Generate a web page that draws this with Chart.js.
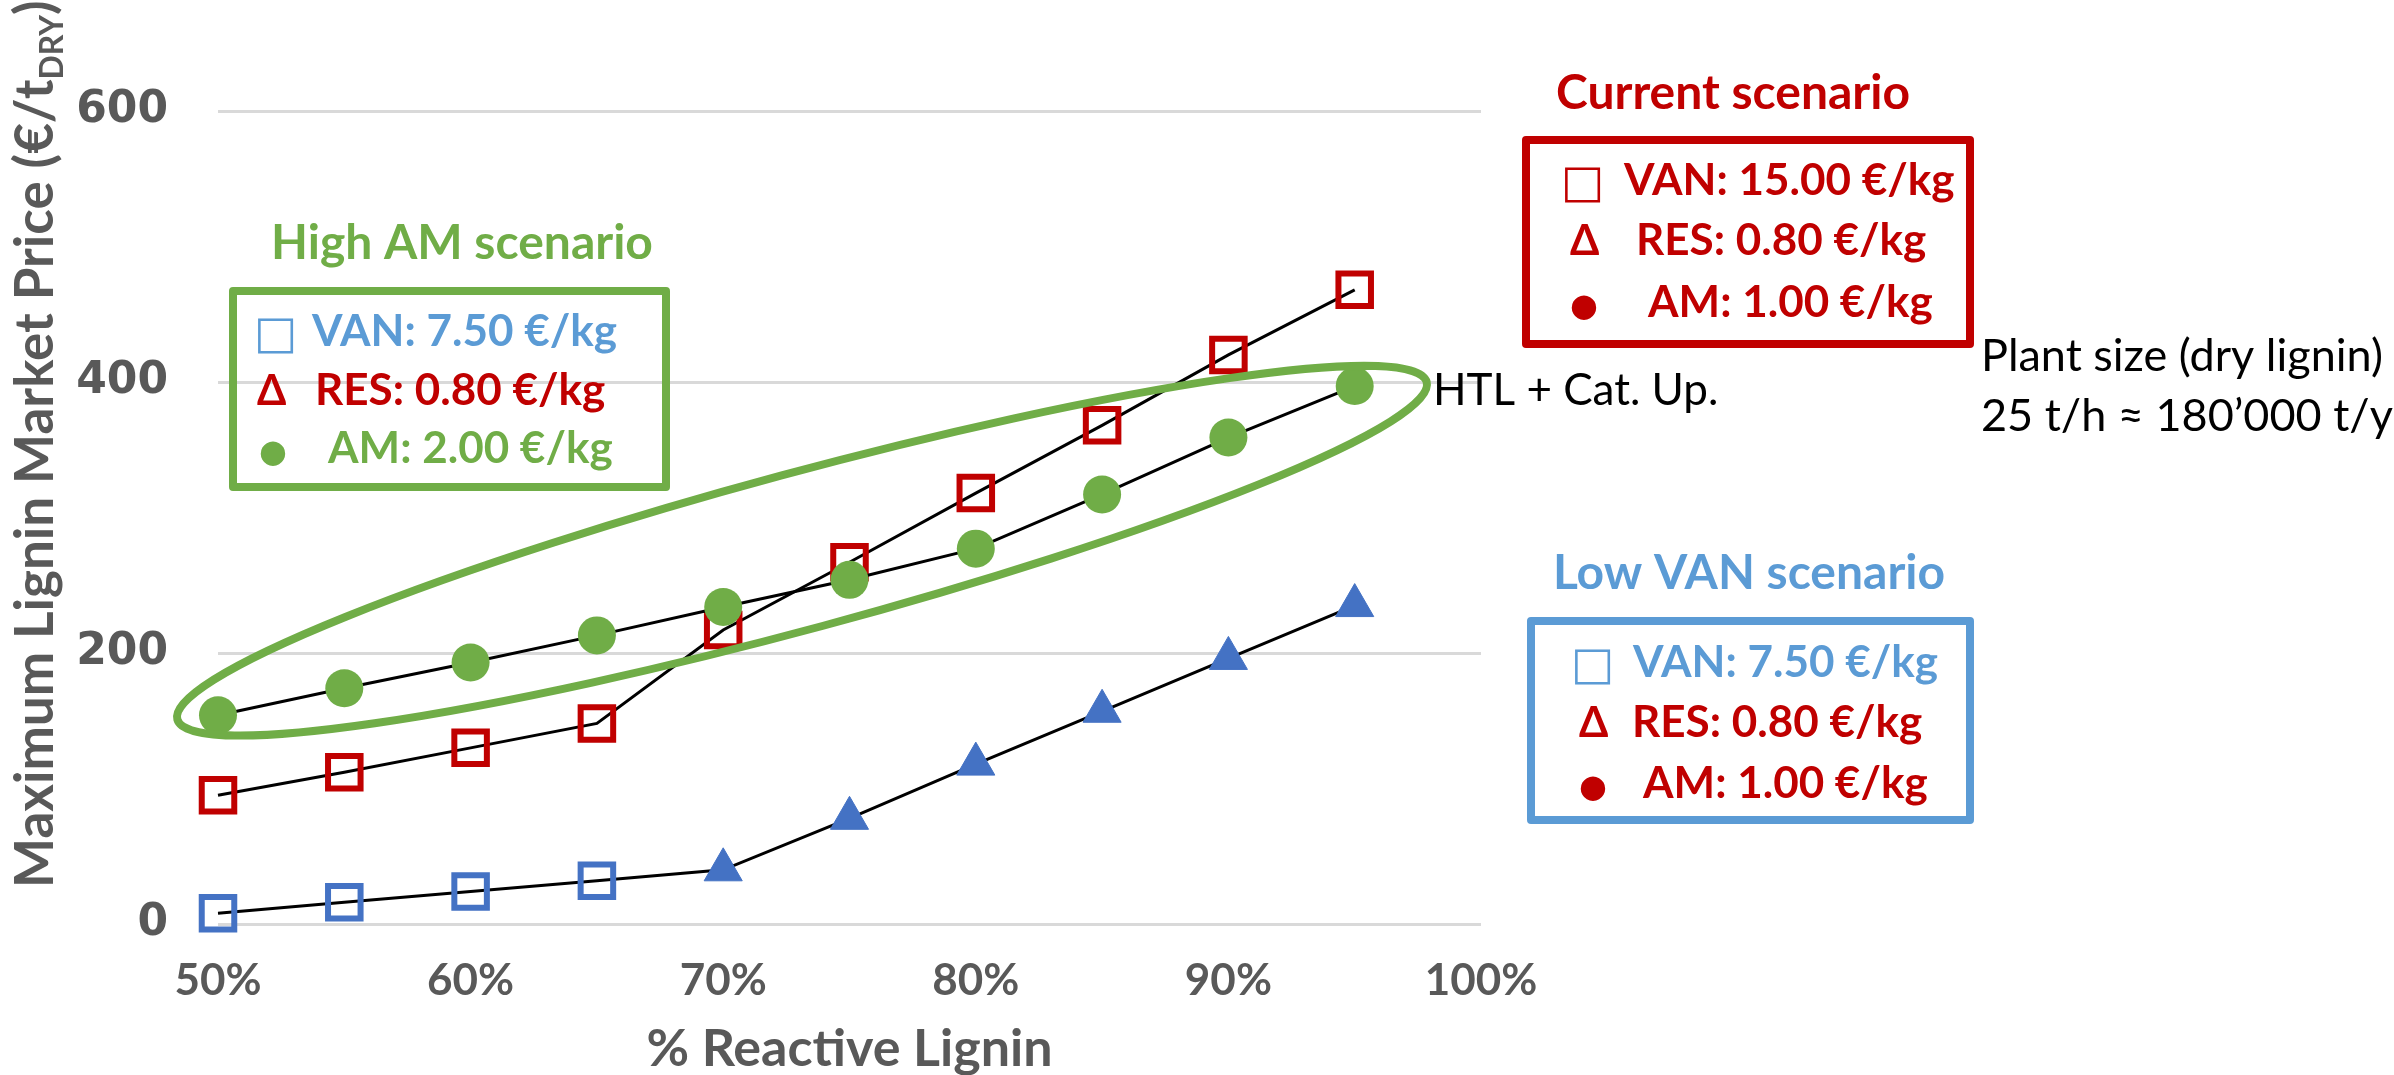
<!DOCTYPE html>
<html>
<head>
<meta charset="utf-8">
<script src="https://cdn.jsdelivr.net/npm/chart.js@4.4.1/dist/chart.umd.min.js"></script>
<style>
  html, body { margin: 0; padding: 0; background: #fff; }
  #wrap { width: 2394px; height: 1075px; position: relative; }
</style>
</head>
<body>
<div id="wrap"><canvas id="myChart"></canvas></div>
<script>
// % reactive lignin on x, max lignin price (€/t dry) on y
const reactive = [0.50, 0.55, 0.60, 0.65, 0.70, 0.75, 0.80, 0.85, 0.90, 0.95];
const priceLowVan = [8, 16, 24, 32, 40, 78, 118, 157, 196, 235];
const priceCurrent = [95, 112, 130, 148, 217, 267, 318, 368, 420, 468];
const priceHighAm = [154, 174, 193, 213, 234, 254, 277, 317, 359, 397];
// which product drives the low VAN case: VAN (square) or RES (triangle)
const lowVanMarker = ['VAN', 'VAN', 'VAN', 'VAN', 'RES', 'RES', 'RES', 'RES', 'RES', 'RES'];
const xTicks = [0.5, 0.6, 0.7, 0.8, 0.9, 1.0];
const yTicks = [0, 200, 400, 600];

const red = '#C00000';
const green = '#70AD47';
const blue = '#4472C4';
const lightBlue = '#5B9BD5';
const grey = '#595959';

function pts(ys) {
    return reactive.map((x, i) => ({ x: x, y: ys[i] }));
}

// ellipse round the high AM points, ends given in data units
const ellipse = { x1: 0.4839, y1: 151, x2: 0.9785, y2: 400, halfWidth: 78 };

const boxes = [
    { x1: 233, y1: 291, x2: 666, y2: 487, color: green },
    { x1: 1526, y1: 140, x2: 1970, y2: 344, color: red },
    { x1: 1531, y1: 621, x2: 1970, y2: 820, color: lightBlue }
];

const titleFont = 'bold 48px Lato';
const rowFont = 'bold 44px Lato';
const sqFont = 'bold 46px "DejaVu Sans"';
const triFont = 'bold 42px Lato';
const dotFont = '32px "DejaVu Sans"';
const plainFont = '44px Lato';

const labels = [
    { t: 'High AM scenario', x: 462, y: 259, c: green, f: titleFont, a: 'center' },
    { t: '□', x: 254, y: 348, c: lightBlue, f: sqFont },
    { t: 'VAN: 7.50 €/kg', x: 312, y: 346, c: lightBlue, f: rowFont },
    { t: 'Δ', x: 257, y: 405, c: red, f: triFont },
    { t: 'RES: 0.80 €/kg', x: 315, y: 405, c: red, f: rowFont },
    { t: '●', x: 273, y: 462, c: green, f: dotFont, a: 'center' },
    { t: 'AM: 2.00 €/kg', x: 328, y: 463, c: green, f: rowFont },

    { t: 'Current scenario', x: 1733, y: 109, c: red, f: titleFont, a: 'center' },
    { t: '□', x: 1561, y: 197, c: red, f: sqFont },
    { t: 'VAN: 15.00 €/kg', x: 1624, y: 195, c: red, f: rowFont },
    { t: 'Δ', x: 1570, y: 255, c: red, f: triFont },
    { t: 'RES: 0.80 €/kg', x: 1636, y: 255, c: red, f: rowFont },
    { t: '●', x: 1584, y: 316, c: red, f: dotFont, a: 'center' },
    { t: 'AM: 1.00 €/kg', x: 1648, y: 317, c: red, f: rowFont },

    { t: 'Low VAN scenario', x: 1749, y: 589, c: lightBlue, f: titleFont, a: 'center' },
    { t: '□', x: 1571, y: 679, c: lightBlue, f: sqFont },
    { t: 'VAN: 7.50 €/kg', x: 1633, y: 677, c: lightBlue, f: rowFont },
    { t: 'Δ', x: 1579, y: 737, c: red, f: triFont },
    { t: 'RES: 0.80 €/kg', x: 1632, y: 737, c: red, f: rowFont },
    { t: '●', x: 1593, y: 797, c: red, f: dotFont, a: 'center' },
    { t: 'AM: 1.00 €/kg', x: 1643, y: 798, c: red, f: rowFont },

    { t: 'HTL + Cat. Up.', x: 1433, y: 405, c: '#000', f: plainFont },
    { t: 'Plant size (dry lignin)', x: 1981, y: 371, c: '#000', f: '45px Lato' },
    { t: '25 t/h ≈ 180’000 t/y', x: 1981, y: 431, c: '#000', f: '45px Lato' }
];

const notes = {
    id: 'notes',
    afterDatasetsDraw(chart) {
        const ctx = chart.ctx;
        const sx = chart.scales.x, sy = chart.scales.y;
        const ax = sx.getPixelForValue(ellipse.x1), ay = sy.getPixelForValue(ellipse.y1);
        const bx = sx.getPixelForValue(ellipse.x2), by = sy.getPixelForValue(ellipse.y2);
        ctx.save();
        ctx.strokeStyle = green;
        ctx.lineWidth = 8;
        ctx.beginPath();
        ctx.ellipse((ax + bx) / 2, (ay + by) / 2, Math.hypot(bx - ax, by - ay) / 2,
            ellipse.halfWidth, Math.atan2(by - ay, bx - ax), 0, Math.PI * 2);
        ctx.stroke();
        ctx.restore();
    },
    afterDraw(chart) {
        const ctx = chart.ctx;
        ctx.save();
        ctx.lineWidth = 8;
        ctx.lineJoin = 'round';
        boxes.forEach(b => {
            ctx.strokeStyle = b.color;
            ctx.strokeRect(b.x1, b.y1, b.x2 - b.x1, b.y2 - b.y1);
        });
        ctx.textBaseline = 'alphabetic';
        labels.forEach(l => {
            ctx.font = l.f;
            ctx.fillStyle = l.c;
            ctx.textAlign = l.a || 'left';
            ctx.fillText(l.t, l.x, l.y);
        });

        // y axis title with subscript
        ctx.translate(53, 888);
        ctx.rotate(-Math.PI / 2);
        ctx.fillStyle = grey;
        ctx.textAlign = 'left';
        const main = 'Maximum Lignin Market Price (€/t';
        ctx.font = 'bold 53px Lato';
        ctx.fillText(main, 0, 0);
        let w = ctx.measureText(main).width;
        ctx.font = 'bold 32px Lato';
        ctx.fillText('DRY', w, 10);
        w += ctx.measureText('DRY').width;
        ctx.font = 'bold 53px Lato';
        ctx.fillText(')', w, 0);
        ctx.restore();
    }
};

const ctx = document.getElementById('myChart').getContext('2d');

const myChart = new Chart(ctx, {
    type: 'scatter',
    data: {
        datasets: [{
            label: 'High AM',
            data: pts(priceHighAm),
            showLine: true,
            borderColor: '#000',
            borderWidth: 3,
            pointStyle: 'circle',
            pointRadius: 19,
            pointBackgroundColor: green,
            pointBorderColor: green,
            pointBorderWidth: 0,
            clip: false
        }, {
            label: 'Current',
            data: pts(priceCurrent),
            showLine: true,
            borderColor: '#000',
            borderWidth: 3,
            pointStyle: 'rect',
            pointRadius: 23,
            pointBackgroundColor: 'rgba(0,0,0,0)',
            pointBorderColor: red,
            pointBorderWidth: 6,
            clip: false
        }, {
            label: 'Low VAN',
            data: pts(priceLowVan),
            showLine: true,
            borderColor: '#000',
            borderWidth: 3,
            pointStyle: lowVanMarker.map(m => m === 'VAN' ? 'rect' : 'triangle'),
            pointRadius: lowVanMarker.map(m => m === 'VAN' ? 23 : 22),
            pointBackgroundColor: lowVanMarker.map(m => m === 'VAN' ? 'rgba(0,0,0,0)' : blue),
            pointBorderColor: blue,
            pointBorderWidth: lowVanMarker.map(m => m === 'VAN' ? 6 : 1),
            clip: false
        }]
    },
    options: {
        responsive: true,
        maintainAspectRatio: false,
        animation: false,
        events: [],
        layout: { padding: { top: 111, right: 913, bottom: 0, left: 0 } },
        plugins: {
            legend: { display: false },
            tooltip: { enabled: false }
        },
        scales: {
            x: {
                type: 'linear',
                min: 0.5,
                max: 1.0,
                afterBuildTicks: s => { s.ticks = xTicks.map(v => ({ value: v })); },
                afterFit: s => { s.height = 151; },
                grid: { display: false, drawTicks: false },
                border: { display: false },
                ticks: {
                    padding: 30,
                    color: grey,
                    font: { family: 'Lato', weight: 'bold', size: 44 },
                    callback: v => Math.round(v * 100) + '%'
                },
                title: {
                    display: true,
                    text: '% Reactive Lignin',
                    color: grey,
                    font: { family: 'Lato', weight: 'bold', size: 52, lineHeight: 1 },
                    padding: 0
                }
            },
            y: {
                min: 0,
                max: 600,
                afterBuildTicks: s => { s.ticks = yTicks.map(v => ({ value: v })); },
                afterFit: s => { s.width = 218; },
                grid: { color: '#D9D9D9', lineWidth: 3, drawTicks: false },
                border: { display: false },
                ticks: {
                    padding: 50,
                    color: grey,
                    font: { family: 'DejaVu Sans', weight: 'bold', size: 44 }
                }
            }
        }
    },
    plugins: [notes]
});
</script>
</body>
</html>
